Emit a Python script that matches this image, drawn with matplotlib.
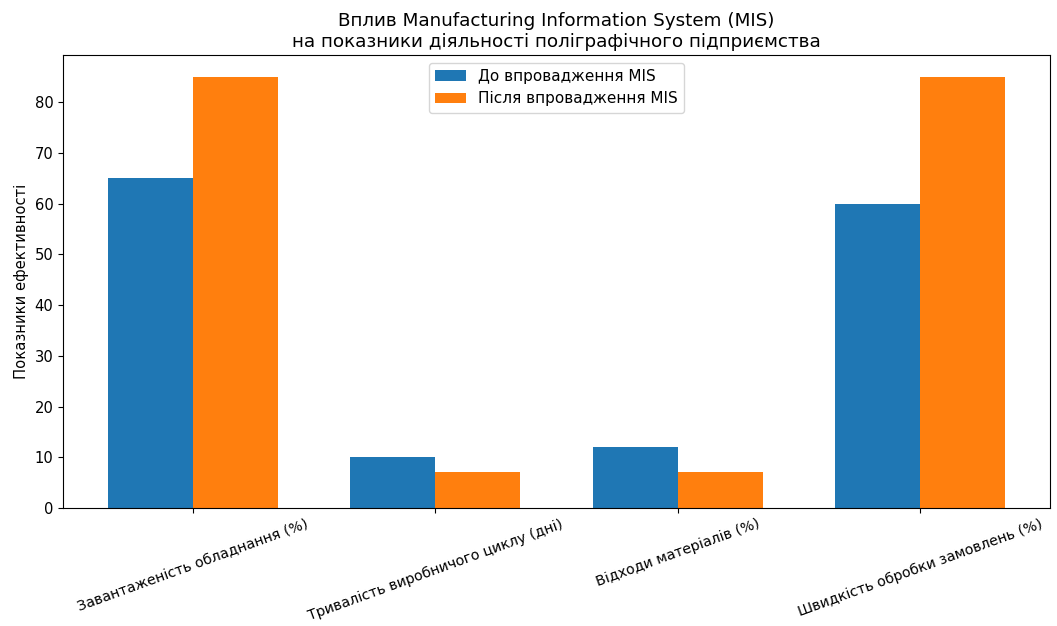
import matplotlib
matplotlib.use("Agg")
import matplotlib.pyplot as plt
import numpy as np

categories = ["Завантаженість обладнання (%)", "Тривалість виробничого циклу (дні)",
              "Відходи матеріалів (%)", "Швидкість обробки замовлень (%)"]
before = [65, 10, 12, 60]
after = [85, 7, 7, 85]
series_labels = ["До впровадження MIS", "Після впровадження MIS"]

plt.rcParams['font.family'] = ['DejaVu Sans']
fig = plt.figure(figsize=(10.57, 6.26), dpi=100)
ax = fig.add_axes([0.0596, 0.1885, 0.9338, 0.7235])

x = np.arange(len(categories))
w = 0.35
ax.bar(x - w/2, before, w, label=series_labels[0], color='#1f77b4')
ax.bar(x + w/2, after, w, label=series_labels[1], color='#ff7f0e')
ax.set_xticks(x)
ax.set_xticklabels(categories, rotation=20, fontsize=10.3)
ax.tick_params(axis='x', pad=3)
ax.tick_params(axis='y', labelsize=10.6)
ax.set_ylabel("Показники ефективності", fontsize=10.6)
ax.set_title("Вплив Manufacturing Information System (MIS)\nна показники діяльності поліграфічного підприємства", fontsize=13.2)
ax.legend(loc='upper center', fontsize=11)
fig.savefig("out.png", dpi=100)
